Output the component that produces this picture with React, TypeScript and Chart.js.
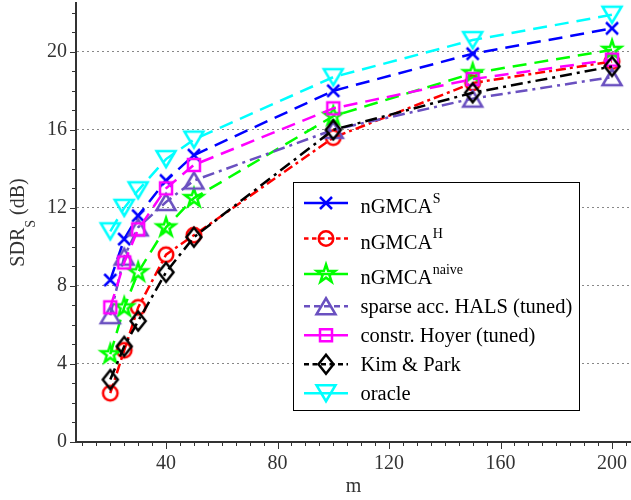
import React, { useEffect, useRef } from "react";
import { Chart, registerables } from "chart.js";

Chart.register(...registerables);

// ---------- data ----------
const mValues = [20, 25, 30, 40, 50, 100, 150, 200];
const sdrNgmcaS = [8.3, 10.4, 11.6, 13.4, 14.7, 18.0, 19.9, 21.2];
const sdrNgmcaH = [2.5, 4.7, 6.9, 9.6, 10.6, 15.6, 18.4, 19.5];
const sdrNgmcaNaive = [4.5, 6.9, 8.7, 11.0, 12.5, 16.7, 18.9, 20.1];
const sdrSparseHals = [6.5, 9.5, 11.0, 12.3, 13.4, 16.0, 17.6, 18.7];
const sdrHoyer = [6.9, 9.2, 10.9, 13.0, 14.2, 17.1, 18.6, 19.6];
const sdrKimPark = [3.2, 4.9, 6.2, 8.7, 10.5, 16.0, 17.9, 19.25];
const sdrOracle = [10.8, 12.0, 12.9, 14.5, 15.5, 18.7, 20.6, 21.9];

const seriesNames = [
  "nGMCA",
  "nGMCA",
  "nGMCA",
  "sparse acc. HALS (tuned)",
  "constr. Hoyer (tuned)",
  "Kim & Park",
  "oracle",
];
const seriesSup = ["S", "H", "naive", "", "", "", ""];
const seriesValues = [
  sdrNgmcaS,
  sdrNgmcaH,
  sdrNgmcaNaive,
  sdrSparseHals,
  sdrHoyer,
  sdrKimPark,
  sdrOracle,
];

const xTickValues = [40, 80, 120, 160, 200];
const yTickValues = [0, 4, 8, 12, 16, 20];
const xTitle = "m";
const yTitleMain = "SDR";
const yTitleSub = "S";
const yTitleRest = " (dB)";

// ---------- styles ----------
type MarkerKind = "x" | "o" | "star" | "tri" | "sq" | "dia" | "triDown";
const seriesStyles: { color: string; dash: number[]; legendDash: number[]; marker: MarkerKind }[] = [
  { color: "#0000ff", dash: [14, 8], legendDash: [], marker: "x" },
  { color: "#ff0000", dash: [10, 4, 3, 4], legendDash: [4.5, 3.5], marker: "o" },
  { color: "#00ff00", dash: [14, 8], legendDash: [], marker: "star" },
  { color: "#6a50c0", dash: [12, 5, 3, 5], legendDash: [6, 4], marker: "tri" },
  { color: "#ff00ff", dash: [14, 8], legendDash: [], marker: "sq" },
  { color: "#000000", dash: [12, 5, 3, 5], legendDash: [5, 3.5], marker: "dia" },
  { color: "#00ffff", dash: [14, 8], legendDash: [], marker: "triDown" },
];

const FONT = "'Liberation Serif', 'Times New Roman', serif";

function drawMarker(ctx: CanvasRenderingContext2D, kind: MarkerKind, cx: number, cy: number, color: string) {
  ctx.save();
  ctx.strokeStyle = color;
  ctx.lineWidth = 2.5;
  ctx.setLineDash([]);
  ctx.lineJoin = "miter";
  ctx.beginPath();
  switch (kind) {
    case "x": {
      const a = 6;
      ctx.moveTo(cx - a, cy - a);
      ctx.lineTo(cx + a, cy + a);
      ctx.moveTo(cx - a, cy + a);
      ctx.lineTo(cx + a, cy - a);
      break;
    }
    case "o":
      ctx.arc(cx, cy, 7.25, 0, Math.PI * 2);
      break;
    case "star": {
      const R = 9.5;
      const r = R * 0.382;
      for (let k = 0; k < 10; k++) {
        const ang = -Math.PI / 2 + (k * Math.PI) / 5;
        const rad = k % 2 === 0 ? R : r;
        const px = cx + rad * Math.cos(ang);
        const py = cy + rad * Math.sin(ang);
        if (k === 0) ctx.moveTo(px, py);
        else ctx.lineTo(px, py);
      }
      ctx.closePath();
      break;
    }
    case "tri":
      ctx.moveTo(cx, cy - 8);
      ctx.lineTo(cx + 9.5, cy + 8);
      ctx.lineTo(cx - 9.5, cy + 8);
      ctx.closePath();
      break;
    case "triDown":
      ctx.moveTo(cx, cy + 8);
      ctx.lineTo(cx + 9.5, cy - 8);
      ctx.lineTo(cx - 9.5, cy - 8);
      ctx.closePath();
      break;
    case "sq":
      ctx.rect(cx - 6, cy - 6, 12, 12);
      break;
    case "dia":
      ctx.moveTo(cx, cy - 9.5);
      ctx.lineTo(cx + 7.5, cy);
      ctx.lineTo(cx, cy + 9.5);
      ctx.lineTo(cx - 7.5, cy);
      ctx.closePath();
      break;
  }
  ctx.stroke();
  ctx.restore();
}

function makeMarkerImage(kind: MarkerKind, color: string): HTMLCanvasElement {
  const c = document.createElement("canvas");
  c.width = 36;
  c.height = 36;
  const ctx = c.getContext("2d")!;
  drawMarker(ctx, kind, 18, 18, color);
  return c;
}

const decorPlugin = {
  id: "decor",
  afterDraw(chart: any) {
    const ctx: CanvasRenderingContext2D = chart.ctx;
    const area = chart.chartArea;
    const xs = chart.scales.x;
    const ys = chart.scales.y;
    ctx.save();
    // tick marks (major + minor), outward
    ctx.strokeStyle = "#333";
    ctx.lineWidth = 1;
    ctx.setLineDash([]);
    for (let v = 0; v <= 22; v += 1) {
      const py = Math.round(ys.getPixelForValue(v)) + 0.5;
      const len = v % 4 === 0 ? 5 : 3;
      ctx.beginPath();
      ctx.moveTo(area.left - len - 1, py);
      ctx.lineTo(area.left, py);
      ctx.stroke();
    }
    for (let v = 10; v <= 205; v += 5) {
      const px = Math.round(xs.getPixelForValue(v)) + 0.5;
      const len = v % 40 === 0 ? 6 : 3;
      ctx.beginPath();
      ctx.moveTo(px, area.bottom);
      ctx.lineTo(px, area.bottom + len + 1);
      ctx.stroke();
    }

    // x title
    ctx.fillStyle = "#333";
    ctx.font = `20px ${FONT}`;
    ctx.textAlign = "center";
    ctx.textBaseline = "alphabetic";
    ctx.fillText(xTitle, (area.left + area.right) / 2, 492);

    // y title (rotated) with subscript
    ctx.save();
    const mainFont = `20px ${FONT}`;
    const subFont = `14px ${FONT}`;
    ctx.font = mainFont;
    const w1 = ctx.measureText(yTitleMain).width;
    const w3 = ctx.measureText(yTitleRest).width;
    ctx.font = subFont;
    const w2 = ctx.measureText(yTitleSub).width;
    const total = w1 + w2 + w3;
    const cyT = (area.top + area.bottom) / 2;
    ctx.translate(24, cyT);
    ctx.rotate(-Math.PI / 2);
    ctx.textAlign = "left";
    ctx.textBaseline = "alphabetic";
    let tx = -total / 2;
    ctx.font = mainFont;
    ctx.fillText(yTitleMain, tx, 0);
    tx += w1;
    ctx.font = subFont;
    ctx.fillText(yTitleSub, tx, 11);
    tx += w2;
    ctx.font = mainFont;
    ctx.fillText(yTitleRest, tx, 0);
    ctx.restore();

    // legend
    const bl = 293.5, bt = 182.5, br = 579.5, bb = 410.5;
    ctx.fillStyle = "#fff";
    ctx.fillRect(bl, bt, br - bl, bb - bt);
    ctx.strokeStyle = "#000";
    ctx.lineWidth = 1;
    ctx.setLineDash([]);
    ctx.strokeRect(bl, bt, br - bl, bb - bt);
    let y = 185.25;
    for (let i = 0; i < seriesNames.length; i++) {
      const hasSup = seriesSup[i] !== "";
      const h = hasSup ? 35.5 : 29;
      const cy = y + h / 2;
      const st = seriesStyles[i];
      ctx.save();
      ctx.strokeStyle = st.color;
      ctx.lineWidth = 2.5;
      ctx.setLineDash(st.legendDash);
      ctx.beginPath();
      ctx.moveTo(304, cy);
      ctx.lineTo(348, cy);
      ctx.stroke();
      ctx.restore();
      drawMarker(ctx, st.marker, 326, cy, st.color);
      ctx.fillStyle = "#000";
      ctx.textAlign = "left";
      ctx.textBaseline = "alphabetic";
      ctx.font = `20.5px ${FONT}`;
      const base = cy + (hasSup ? 10 : 6.7);
      ctx.fillText(seriesNames[i], 360.5, base);
      if (hasSup) {
        const wm = ctx.measureText(seriesNames[i]).width;
        ctx.font = `14px ${FONT}`;
        ctx.fillText(seriesSup[i], 360.5 + wm + 0.5, base - 10.5);
      }
      y += h;
    }
    ctx.restore();
  },
};

function zeroPadding(s: any) {
  s.paddingTop = 0;
  s.paddingBottom = 0;
  s.paddingLeft = 0;
  s.paddingRight = 0;
}

export default function App() {
  const canvasRef = useRef<HTMLCanvasElement | null>(null);

  useEffect(() => {
    document.body.style.margin = "0";
    const canvas = canvasRef.current;
    if (!canvas) return;

    const datasets = seriesValues.map((vals, i) => {
      const st = seriesStyles[i];
      return {
        label: seriesNames[i] + seriesSup[i],
        data: mValues.map((m, j) => ({ x: m, y: vals[j] })),
        borderColor: st.color,
        backgroundColor: "transparent",
        borderWidth: 2.5,
        borderDash: st.dash,
        borderCapStyle: "butt" as const,
        tension: 0,
        pointStyle: makeMarkerImage(st.marker, st.color),
        pointRadius: 10,
        pointHoverRadius: 10,
        order: -i,
        fill: false,
      };
    });

    const chart = new Chart(canvas, {
      type: "line",
      data: { datasets: datasets as any },
      options: {
        responsive: false,
        animation: false,
        devicePixelRatio: 1,
        layout: { autoPadding: false, padding: { top: 3, right: 0, left: 0, bottom: 0 } },
        plugins: {
          legend: { display: false },
          tooltip: { enabled: false },
        },
        scales: {
          x: {
            type: "linear",
            min: 7.7,
            max: 206.8,
            afterFit: (s: any) => {
              s.height = 58;
              zeroPadding(s);
            },
            afterBuildTicks: (s: any) => {
              s.ticks = xTickValues.map((v) => ({ value: v }));
            },
            grid: { display: false, drawTicks: false },
            border: { display: true, color: "#333", width: 2 },
            ticks: {
              font: { family: FONT, size: 20 },
              color: "#333",
              padding: 10,
              maxRotation: 0,
              autoSkip: false,
            },
          },
          y: {
            type: "linear",
            min: 0,
            max: 22.5,
            afterFit: (s: any) => {
              s.width = 76;
              zeroPadding(s);
            },
            afterBuildTicks: (s: any) => {
              s.ticks = yTickValues.map((v) => ({ value: v }));
            },
            grid: { display: true, drawTicks: false, color: "#888", lineWidth: 1 },
            border: { display: true, color: "#333", width: 2, dash: [2, 3] },
            ticks: {
              font: { family: FONT, size: 20 },
              color: "#333",
              padding: 9,
              autoSkip: false,
            },
          },
        },
      },
      plugins: [decorPlugin],
    });

    return () => {
      chart.destroy();
    };
  }, []);

  return (
    <div style={{ width: 631, height: 500 }}>
      <canvas ref={canvasRef} width={631} height={500} style={{ display: "block" }} />
    </div>
  );
}
